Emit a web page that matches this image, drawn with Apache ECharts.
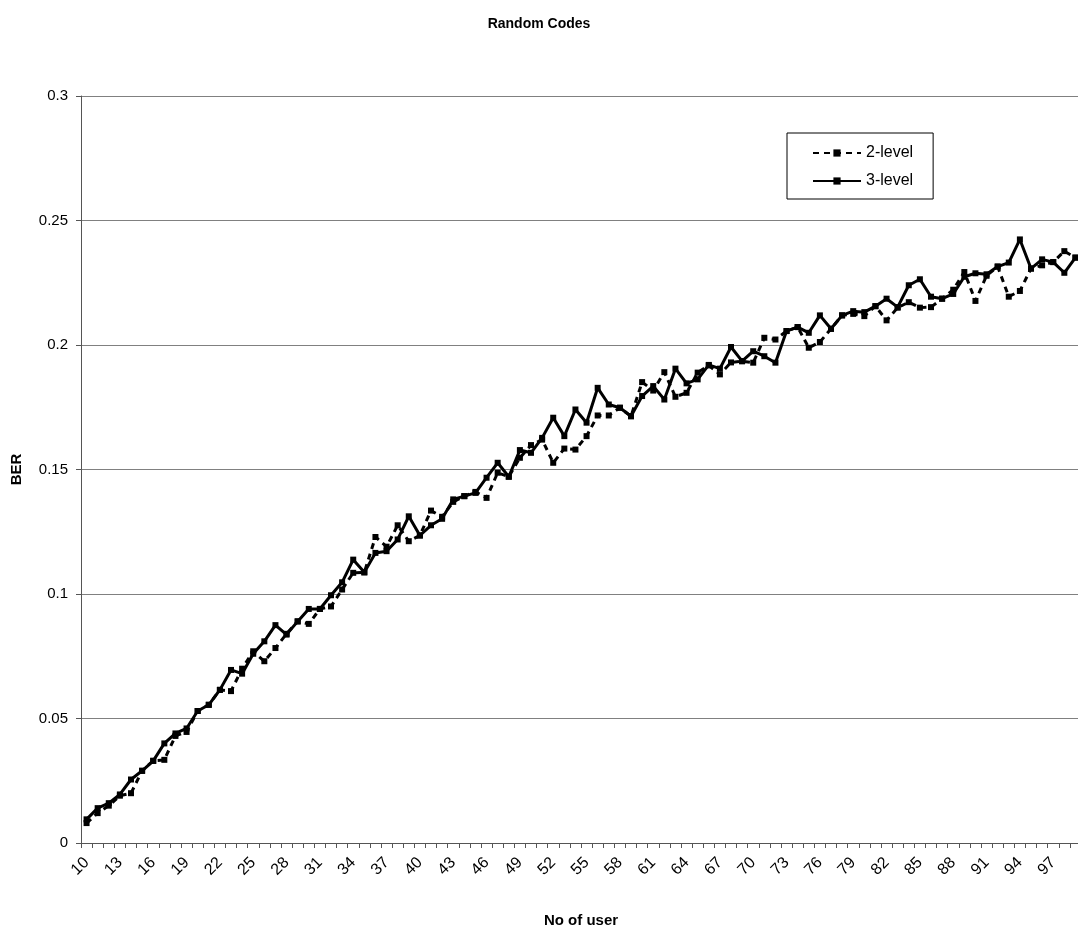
<!DOCTYPE html>
<html>
<head>
<meta charset="utf-8">
<script src="https://cdn.jsdelivr.net/npm/echarts@6/dist/echarts.min.js"></script>
<style>
  html, body { margin: 0; padding: 0; background: #fff; }
  #chart { width: 1078px; height: 932px; }
</style>
</head>
<body>
<div id="chart"></div>
<script>
// Number of users on the x axis (10 .. 99)
const users = [];
for (let u = 10; u <= 99; u++) users.push(String(u));

// Bit error rate, 2-level codes
const ber2 = [
  0.008, 0.012, 0.015, 0.019, 0.020, 0.029, 0.033, 0.0334, 0.043, 0.0446,
  0.053, 0.0555, 0.0615, 0.061, 0.070, 0.077, 0.073, 0.0783, 0.084, 0.089,
  0.088, 0.094, 0.095, 0.1018, 0.1085, 0.1087, 0.1229, 0.119, 0.1276, 0.1212,
  0.1235, 0.1335, 0.131, 0.137, 0.1393, 0.141, 0.1386, 0.1487, 0.1471, 0.1547,
  0.1598, 0.162, 0.1527, 0.1584, 0.158, 0.1634, 0.1717, 0.1717, 0.1748, 0.1714,
  0.1851, 0.1817, 0.1891, 0.1792, 0.1808, 0.1889, 0.1918, 0.1882, 0.1930, 0.1935,
  0.1929, 0.2029, 0.2022, 0.2056, 0.2072, 0.1989, 0.2012, 0.2065, 0.2119, 0.2125,
  0.2116, 0.2156, 0.2099, 0.215, 0.2172, 0.215, 0.2152, 0.2186, 0.2222, 0.2293,
  0.2177, 0.2278, 0.2315, 0.2194, 0.2217, 0.2307, 0.232, 0.2333, 0.2377, 0.2351
];

// Bit error rate, 3-level codes
const ber3 = [
  0.0095, 0.014, 0.016, 0.0195, 0.0255, 0.029, 0.033, 0.040, 0.044, 0.046,
  0.053, 0.0555, 0.0615, 0.0695, 0.068, 0.076, 0.081, 0.0875, 0.0837, 0.089,
  0.094, 0.094, 0.0995, 0.1047, 0.1138, 0.1087, 0.1165, 0.1172, 0.1219, 0.1312,
  0.1235, 0.1276, 0.1302, 0.138, 0.1393, 0.1406, 0.1467, 0.1527, 0.1471, 0.1578,
  0.1567, 0.1627, 0.1708, 0.1634, 0.1741, 0.1688, 0.1828, 0.1761, 0.1748, 0.1714,
  0.1795, 0.1835, 0.1781, 0.1905, 0.1846, 0.1862, 0.1920, 0.1905, 0.1992, 0.1935,
  0.1975, 0.1955, 0.1929, 0.2056, 0.2072, 0.2049, 0.2119, 0.2065, 0.2119, 0.2136,
  0.2132, 0.2156, 0.2186, 0.2152, 0.224, 0.2264, 0.2194, 0.2186, 0.2205, 0.2274,
  0.2288, 0.2284, 0.2315, 0.2331, 0.2424, 0.2307, 0.2344, 0.2333, 0.229, 0.2351
];

const yTicks = { min: 0, max: 0.3, interval: 0.05 };

const FONT = '"Liberation Sans", Arial, sans-serif';
const chart = echarts.init(document.getElementById('chart'), null, { renderer: 'canvas' });

chart.setOption({
  animation: false,
  backgroundColor: '#ffffff',
  title: {
    text: 'Random Codes',
    left: 'center',
    top: 12,
    textStyle: { fontFamily: FONT, fontSize: 14, fontWeight: 'bold', color: '#000' }
  },
  legend: {
    orient: 'vertical',
    left: 787,
    top: 133,
    padding: [12, 20, 10, 25],
    itemGap: 12,
    itemWidth: 48,
    itemHeight: 9,
    borderColor: '#000',
    borderWidth: 1,
    textStyle: { fontFamily: FONT, fontSize: 16, color: '#000' },
    data: ['2-level', '3-level']
  },
  grid: {
    left: 81,
    right: -3,
    top: 96,
    bottom: 89,
    outerBoundsMode: 'none',
    containLabel: false
  },
  xAxis: {
    type: 'category',
    data: users,
    boundaryGap: true,
    name: 'No of user',
    nameLocation: 'middle',
    nameGap: 70,
    nameTextStyle: { fontFamily: FONT, fontSize: 15, fontWeight: 'bold', color: '#000' },
    axisLine: { lineStyle: { color: '#555', width: 1 } },
    axisTick: { show: true, interval: 0, length: 5, lineStyle: { color: '#555' } },
    axisLabel: {
      interval: 2,
      rotate: 45,
      margin: 17,
      fontFamily: FONT,
      fontSize: 16,
      color: '#000'
    },
    splitLine: { show: false }
  },
  yAxis: {
    type: 'value',
    min: yTicks.min,
    max: yTicks.max,
    interval: yTicks.interval,
    name: 'BER',
    nameLocation: 'middle',
    nameGap: 57,
    nameRotate: 90,
    nameTextStyle: { fontFamily: FONT, fontSize: 15, fontWeight: 'bold', color: '#000' },
    axisLine: { show: true, lineStyle: { color: '#555', width: 1 } },
    axisTick: { show: true, length: 5, lineStyle: { color: '#555' } },
    axisLabel: {
      margin: 13,
      fontFamily: FONT,
      fontSize: 15,
      color: '#000',
      formatter: v => String(+v.toFixed(2))
    },
    splitLine: { show: true, lineStyle: { color: '#808080', width: 1 } }
  },
  series: [
    {
      name: '2-level',
      type: 'line',
      data: ber2,
      symbol: 'rect',
      symbolSize: 6,
      color: '#000',
      lineStyle: { color: '#000', width: 3, type: [6, 5] },
      itemStyle: { color: '#000' },
      z: 2
    },
    {
      name: '3-level',
      type: 'line',
      data: ber3,
      symbol: 'rect',
      symbolSize: 6,
      color: '#000',
      lineStyle: { color: '#000', width: 3, type: 'solid' },
      itemStyle: { color: '#000' },
      z: 3
    }
  ]
});
</script>
</body>
</html>
